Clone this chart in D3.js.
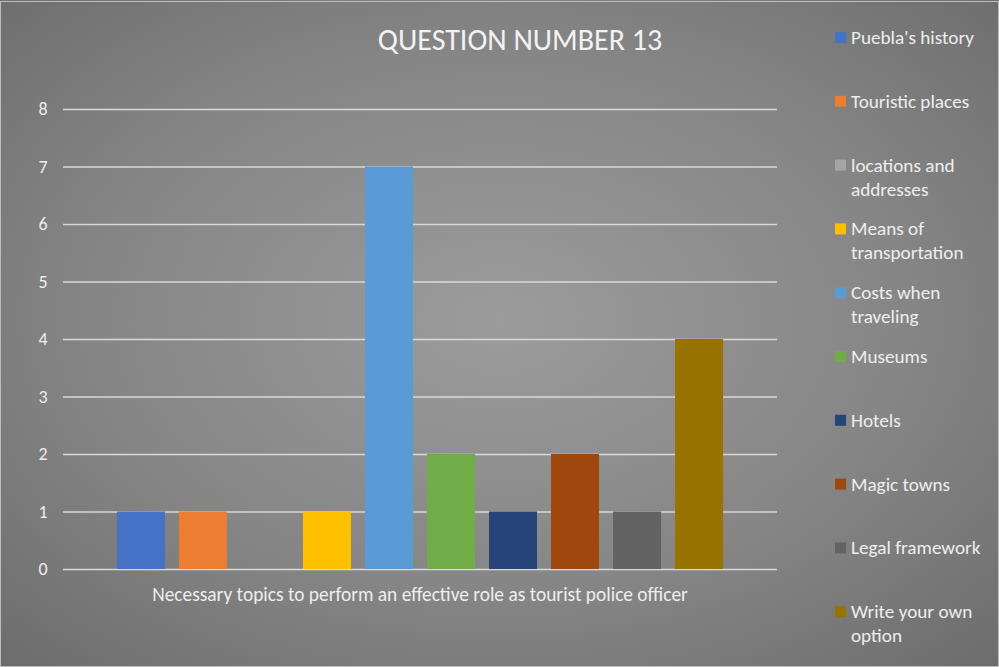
<!DOCTYPE html>
<html><head><meta charset="utf-8">
<script src="https://cdn.jsdelivr.net/npm/d3@7"></script>
<style>html,body{margin:0;padding:0;background:#808080;}svg{display:block;}</style>
</head><body>
<svg id="chart" width="999" height="667"></svg>
<script>
const title = "QUESTION NUMBER 13";
const category = "Necessary topics to perform an effective role as tourist police officer";
const seriesNames = ["Puebla's history","Touristic places","locations and addresses","Means of transportation","Costs when traveling","Museums","Hotels","Magic towns","Legal framework","Write your own option"];
const seriesValues = [1,1,0,1,7,2,1,2,1,4];
const seriesColors = ["#4472C4","#ED7D31","#A5A5A5","#FFC000","#5B9BD5","#70AD47","#264478","#9E480E","#636363","#997300"];
const legendLines = [["Puebla's history"],["Touristic places"],["locations and","addresses"],["Means of","transportation"],["Costs when","traveling"],["Museums"],["Hotels"],["Magic towns"],["Legal framework"],["Write your own","option"]];
const yTicks = [0,1,2,3,4,5,6,7,8];

(function(){
const svg = d3.select("#chart");
const W = 999, H = 667;
const font = "Carlito, Calibri, Lato, sans-serif";

const defs = svg.append("defs");
const grad = defs.append("radialGradient").attr("id","bg")
  .attr("cx","50%").attr("cy","48%").attr("r","75%");
grad.append("stop").attr("offset","0%").attr("stop-color","#9c9c9c");
grad.append("stop").attr("offset","55%").attr("stop-color","#858585");
grad.append("stop").attr("offset","100%").attr("stop-color","#6a6a6a");
svg.append("rect").attr("width",W).attr("height",H).attr("fill","url(#bg)");
svg.append("rect").attr("x",0.5).attr("y",1.5).attr("width",W-1).attr("height",H-2)
  .attr("fill","none").attr("stroke","#bdbdbd").attr("stroke-width",1);

const pLeft = 63, pRight = 777, pTop = 109, pBottom = 569;
const y = d3.scaleLinear().domain([0,8]).range([pBottom, pTop]);
const x0 = d3.scaleBand().domain([category]).range([pLeft,pRight]).paddingInner(0).paddingOuter(0.089);
const x1 = d3.scaleBand().domain(seriesNames).range([0, x0.bandwidth()]).paddingInner(0.226).paddingOuter(0);

const yAxis = d3.axisLeft(y).tickValues(yTicks).tickSize(-(pRight-pLeft)).tickPadding(18);
const ga = svg.append("g").attr("transform",`translate(${pLeft},0)`).call(yAxis);
ga.select(".domain").remove();
ga.selectAll(".tick line").attr("stroke","#d9d9d9").attr("stroke-width",1.3);
ga.selectAll(".tick text").attr("fill","#eeeeee").attr("font-family",font).attr("font-size",18).attr("text-anchor","middle").attr("dx",-2);

const g = svg.append("g").attr("transform",`translate(${x0(category)},0)`);
g.selectAll("rect").data(seriesNames).enter().append("rect")
  .attr("x", d => x1(d))
  .attr("width", x1.bandwidth())
  .attr("y", (d,i) => y(seriesValues[i]))
  .attr("height", (d,i) => y(0) - y(seriesValues[i]))
  .attr("fill", (d,i) => seriesColors[i]);

svg.append("text").attr("x", x0(category) + x0.bandwidth()/2) .attr("y", 601)
  .attr("text-anchor","middle").attr("fill","#eeeeee").attr("font-family",font).attr("font-size",19.4)
  .text(category);

svg.append("text").attr("x",520).attr("y",50).attr("text-anchor","middle")
  .attr("fill","#f2f2f2").attr("font-family",font).attr("font-size",30).text(title);

const lg = svg.append("g");
seriesNames.forEach((s,i) => {
  const ly = 38 + i*63.8;
  lg.append("rect").attr("x",835).attr("y",ly-6).attr("width",11).attr("height",11).attr("fill",seriesColors[i]);
  legendLines[i].forEach((t,j) => {
    lg.append("text").attr("x",851).attr("y",ly+6+j*24).attr("fill","#eeeeee")
      .attr("font-family",font).attr("font-size",19.2).text(t);
  });
});
})();
</script>
</body></html>
